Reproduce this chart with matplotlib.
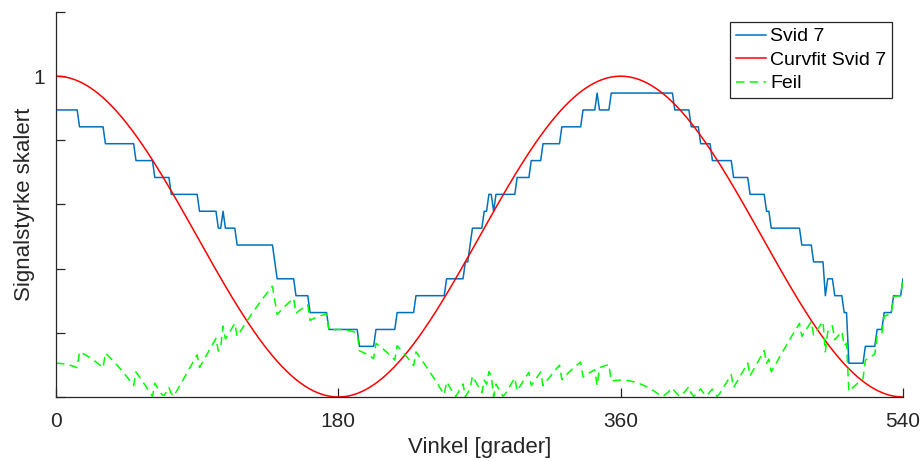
import numpy as np
import matplotlib.pyplot as plt

# ------------------------------------------------------
# DATA
# ------------------------------------------------------
# Svid 7: step signal, stored as (start angle in degrees, level in steps of 1/19)
svid_start = [0, 13.8, 30.8, 51.0, 62.7, 72.7, 91.2, 103.0, 105.8, 107.7,
              114.6, 138.1, 139.6, 143.4, 151.7, 162.0, 173.7, 192.2, 204.0,
              217.1, 229.5, 247.7, 260.1, 262.7, 265.2, 272.2, 274.8, 278.3,
              280.5, 293.0, 301.6, 309.2, 322.0, 335.0, 343.6, 345.5, 353.5,
              393.7, 404.8, 410.3, 417.3, 430.7, 442.1, 453.0, 454.9, 474.3,
              482.3, 489.4, 491.2, 495.7, 501.1, 504.9, 515.8, 522.5, 527.6,
              533.6, 539.0]
svid_level = [17, 16, 15, 14, 13, 12, 11, 10, 11, 10,
              9, 8, 7, 7, 6, 5, 4, 3, 4,
              5, 6, 7, 8, 9, 10, 11, 12, 11,
              12, 13, 14, 15, 16, 17, 18, 17, 18,
              17, 16, 15, 14, 13, 12, 11, 10, 9,
              8, 6, 7, 6, 5, 2, 3, 4, 5,
              6, 7]
n_levels = 19
sample_step = 1.5         # degrees between samples

# Curvfit Svid 7: cosine fit parameters
fit_offset = 0.5
fit_amp = 0.5
fit_period = 360.0

x_ticks = [0, 180, 360, 540]
y_ticks = [0, 0.2, 0.4, 0.6, 0.8, 1.0, 1.2]
y_ticklabels = ["", "", "", "", "", "1", ""]

# ------------------------------------------------------
# SERIES
# ------------------------------------------------------
angle = np.arange(0, 540 + sample_step / 2, sample_step)
idx = np.searchsorted(svid_start, angle, side="right") - 1
svid = np.array(svid_level)[idx] / n_levels
fit = fit_offset + fit_amp * np.cos(2 * np.pi * angle / fit_period)
feil = np.abs(svid - fit)

# ------------------------------------------------------
# PLOTTING
# ------------------------------------------------------
plt.rcParams["font.family"] = ["Liberation Sans", "DejaVu Sans"]
axis_color = "#262626"

fig = plt.figure(figsize=(9.24, 4.61), dpi=100)
ax = fig.add_axes([56 / 924, 64 / 461, 847 / 924, 385 / 461])

ax.plot(angle, svid, color="#0072BD", lw=1.1, label="Svid 7")
ax.plot(angle, fit, color="#FF0000", lw=1.1, label="Curvfit Svid 7")
ax.plot(angle, feil, color="#00FF00", lw=1.1, dashes=(5.5, 3.5), label="Feil")

ax.set_xlim(0, 540)
ax.set_ylim(0, 1.2)
ax.set_xticks(x_ticks)
ax.set_yticks(y_ticks)
ax.set_yticklabels(y_ticklabels)

for side in ["top", "right"]:
    ax.spines[side].set_visible(False)
for side in ["left", "bottom"]:
    ax.spines[side].set_color(axis_color)
    ax.spines[side].set_linewidth(0.9)

ax.tick_params(direction="in", length=6.5, width=0.9, color=axis_color,
               labelcolor=axis_color, labelsize=15)
ax.tick_params(axis="x", pad=11)
ax.tick_params(axis="y", pad=8)

ax.set_xlabel("Vinkel [grader]", fontsize=16, color=axis_color, labelpad=4)
ax.set_ylabel("Signalstyrke skalert", fontsize=16, color=axis_color, labelpad=-1)

leg = ax.legend(loc="upper right", bbox_to_anchor=(0.987, 0.974),
                borderaxespad=0, fontsize=14, fancybox=False, framealpha=1,
                handlelength=1.55, handletextpad=0.2, labelspacing=0.3,
                borderpad=0.3)
leg.get_frame().set_edgecolor(axis_color)
leg.get_frame().set_linewidth(0.9)
for t in leg.get_texts():
    t.set_color("black")

fig.savefig("out.png", dpi=100)
